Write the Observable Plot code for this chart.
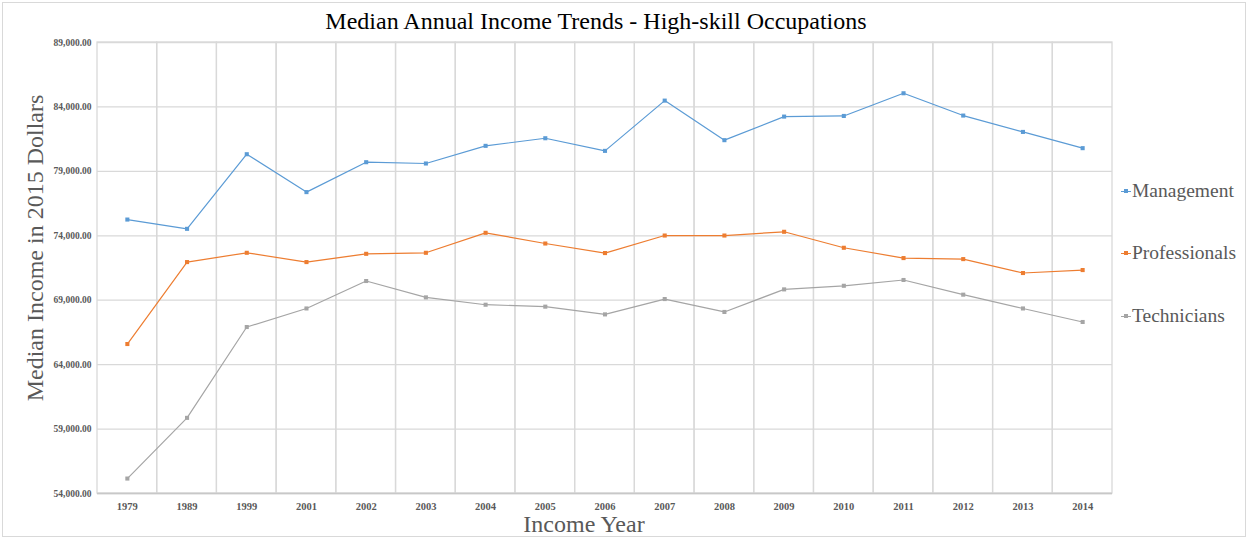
<!DOCTYPE html>
<html>
<head>
<meta charset="utf-8">
<script src="https://cdn.jsdelivr.net/npm/d3@7"></script>
<script src="https://cdn.jsdelivr.net/npm/@observablehq/plot@0.6"></script>
<style>
  html, body { margin: 0; padding: 0; background: #fff; }
  #wrap { position: relative; width: 1249px; height: 539px; font-family: "Liberation Serif", "Times New Roman", serif; }
  #wrap svg { position: absolute; left: 0; top: 0; }
  .border { position: absolute; left: 2px; top: 2px; width: 1244px; height: 535px; border: 1px solid #d9d9d9; box-sizing: border-box; pointer-events: none; }
  .title { position: absolute; left: 0; top: 8px; width: 1192px; text-align: center; font-size: 24px; color: #000; white-space: nowrap; }
  .ylabel { position: absolute; left: 35px; top: 248px; transform: translate(-50%, -50%) rotate(-90deg); font-size: 24px; color: #595959; white-space: nowrap; }
  .xlabel { position: absolute; left: 584px; top: 511px; transform: translateX(-50%); font-size: 24px; color: #595959; white-space: nowrap; }
  .legend { position: absolute; left: 1121px; top: 0; }
  .item { position: absolute; left: 0; display: flex; align-items: center; font-size: 19.5px; color: #595959; white-space: nowrap; }
  .sw { position: relative; width: 10px; height: 10px; margin-right: 1px; }
  .sw .ln { position: absolute; left: 0; top: 4.5px; width: 10px; height: 1.2px; }
  .sw .mk { position: absolute; left: 3px; top: 3px; width: 4px; height: 4px; }
</style>
</head>
<body>
<div id="wrap"></div>
<script>
const years = ["1979","1989","1999","2001","2002","2003","2004","2005","2006","2007","2008","2009","2010","2011","2012","2013","2014"];
const seriesNames = ["Management", "Professionals", "Technicians"];
const management = [75260, 74540, 80330, 77390, 79710, 79610, 80980, 81570, 80590, 84490, 81420, 83250, 83300, 85060, 83330, 82060, 80800];
const professionals = [65600, 71960, 72680, 71960, 72600, 72680, 74230, 73400, 72660, 74020, 74020, 74310, 73070, 72270, 72190, 71110, 71340];
const technicians = [55160, 59870, 66920, 68360, 70490, 69220, 68650, 68500, 67900, 69090, 68090, 69840, 70120, 70570, 69430, 68360, 67310];
const yTicks = [54000, 59000, 64000, 69000, 74000, 79000, 84000, 89000];
const colors = ["#5B9BD5", "#ED7D31", "#A5A5A5"];

const valuesBySeries = [management, professionals, technicians];
const data = seriesNames.flatMap((s, k) => years.map((yr, i) => ({year: yr, series: s, value: valuesBySeries[k][i]})));

const chart = Plot.plot({
  width: 1249,
  height: 539,
  marginLeft: 97,
  marginRight: 137,
  marginTop: 42,
  marginBottom: 46,
  style: {fontFamily: "'Liberation Serif', 'Times New Roman', serif", color: "#595959", background: "transparent", overflow: "visible"},
  x: {type: "band", domain: years, padding: 0, round: false, label: null},
  y: {domain: [54000, 89000], label: null},
  color: {domain: seriesNames, range: colors},
  marks: [
    Plot.gridY(yTicks, {stroke: "#d9d9d9", strokeOpacity: 1, strokeWidth: 1.3}),
    Plot.cell(years, {x: d => d, fill: "none", stroke: "#d9d9d9", strokeWidth: 1.3, inset: 0}),
    Plot.ruleY([54000], {stroke: "#c8c8c8", strokeWidth: 1.3}),
    Plot.axisY(yTicks, {tickSize: 0, tickPadding: 6, tickFormat: d3.format(",.2f"), fontSize: 9.5, fontWeight: "bold", fill: "#595959", label: null}),
    Plot.axisX({tickSize: 0, tickPadding: 9, fontSize: 10.5, fontWeight: "bold", fill: "#595959", label: null}),
    Plot.line(data, {x: "year", y: "value", z: "series", stroke: "series", strokeWidth: 1.2}),
    Plot.dot(data, {x: "year", y: "value", fill: "series", symbol: "square", r: 2.3})
  ]
});

const wrap = document.getElementById("wrap");
wrap.appendChild(chart);

const border = document.createElement("div");
border.className = "border";
wrap.appendChild(border);

const title = document.createElement("div");
title.className = "title";
title.textContent = "Median Annual Income Trends - High-skill Occupations";
wrap.appendChild(title);

const ylab = document.createElement("div");
ylab.className = "ylabel";
ylab.textContent = "Median Income in 2015 Dollars";
wrap.appendChild(ylab);

const xlab = document.createElement("div");
xlab.className = "xlabel";
xlab.textContent = "Income Year";
wrap.appendChild(xlab);

const legend = document.createElement("div");
legend.className = "legend";
const legendTops = [180, 242, 305];
seriesNames.forEach((s, k) => {
  const it = document.createElement("div");
  it.className = "item";
  it.style.top = legendTops[k] + "px";
  it.innerHTML = `<span class="sw"><span class="ln" style="background:${colors[k]}"></span><span class="mk" style="background:${colors[k]}"></span></span><span>${s}</span>`;
  legend.appendChild(it);
});
wrap.appendChild(legend);
</script>
</body>
</html>
